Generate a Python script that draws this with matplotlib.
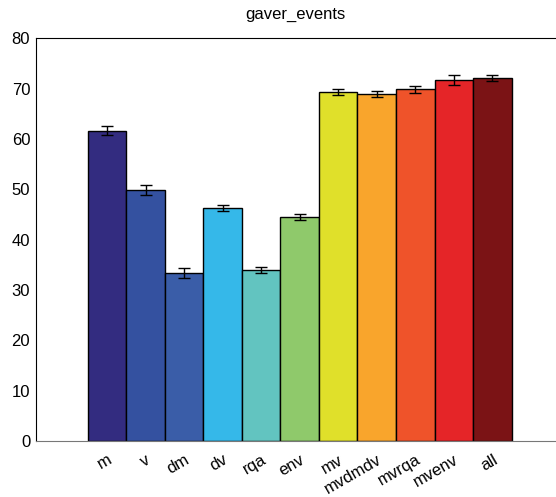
import matplotlib
matplotlib.use("Agg")
import matplotlib.pyplot as plt
import numpy as np

labels = ['m', 'v', 'dm', 'dv', 'rqa', 'env', 'mv', 'mvdmdv', 'mvrqa', 'mvenv', 'all']
means = [61.6, 49.8, 33.4, 46.2, 34.0, 44.5, 69.3, 68.9, 69.9, 71.7, 72.1]
errs = [0.9, 1.0, 1.05, 0.6, 0.65, 0.6, 0.65, 0.6, 0.7, 1.0, 0.6]
colors = ['#332c80', '#3451a0', '#3a5da8', '#35b8e9', '#62c4c0', '#8fc96b',
          '#e0e02a', '#f9a52c', '#ef532a', '#e52528', '#7b1315']

plt.rcParams['font.family'] = ['Liberation Sans', 'DejaVu Sans']

fig = plt.figure(figsize=(5.56, 4.97), dpi=100)
ax = fig.add_axes([0.0642, 0.1127, 0.9358, 0.8103])

x = np.arange(1, len(labels) + 1)
ax.bar(x, means, width=1.0, color=colors, edgecolor='black', linewidth=1.0)
ax.errorbar(x, means, yerr=errs, fmt='none', ecolor='black', elinewidth=1.0,
            capsize=4, capthick=1.0)

ax.set_xlim(-0.849, 12.65)
ax.set_ylim(0, 80)
ax.set_yticks(np.arange(0, 81, 10))
ax.set_xticks(x)
ax.set_xticklabels(labels, rotation=30, ha='right', rotation_mode='anchor', fontsize=12)
ax.tick_params(axis='y', labelsize=12, length=0, pad=4)
ax.tick_params(axis='x', length=0, pad=8)
ax.spines['right'].set_visible(False)
ax.spines['bottom'].set_color('#777777')
ax.set_title('gaver_events', fontsize=12, pad=14)

plt.savefig('out.png', dpi=100)
